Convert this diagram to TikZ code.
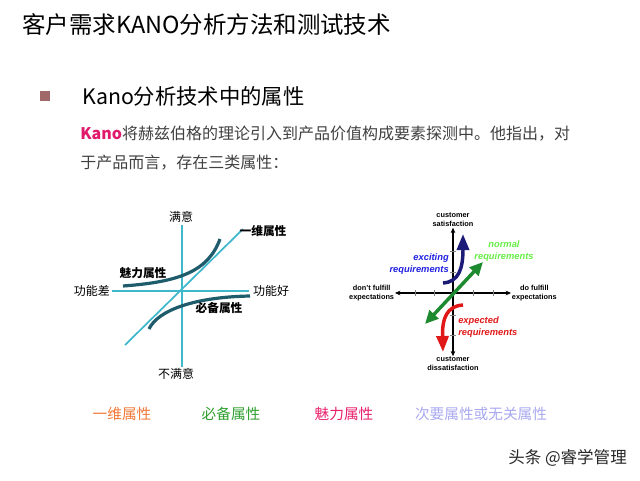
\documentclass[tikz,border=0pt]{standalone}
\usepackage{fontspec}
\setmainfont{Liberation Sans}
\newfontfamily\cjk{Noto Sans CJK SC}
\usetikzlibrary{arrows.meta}
\definecolor{bulletred}{HTML}{A06868}
\definecolor{kanopink}{HTML}{E0196B}
\definecolor{bodygray}{HTML}{404040}
\definecolor{axisteal}{HTML}{40B8CC}
\definecolor{curveteal}{HTML}{1E5C6C}
\definecolor{navyarrow}{HTML}{1C1C78}
\definecolor{greenarrow}{HTML}{1E8A30}
\definecolor{excitingblue}{HTML}{2020E0}
\definecolor{normalgreen}{HTML}{66EE44}
\definecolor{expectedred}{HTML}{E01818}
\definecolor{lgorange}{HTML}{F07838}
\definecolor{lggreen}{HTML}{30A030}
\definecolor{lgpink}{HTML}{E8206A}
\definecolor{lgpurple}{HTML}{A8A8F0}
\tikzstyle{cn} = [inner sep=0pt, font=\cjk\fontsize{9}{10}\selectfont]
\tikzstyle{cnb} = [inner sep=0pt, font=\cjk\bfseries\fontsize{8.8}{10}\selectfont]
\tikzstyle{axlbl} = [inner sep=0.5pt, align=center, font=\bfseries\fontsize{5.5}{6.6}\selectfont]
\tikzstyle{req} = [inner sep=0pt, font=\bfseries\itshape\fontsize{7}{9}\selectfont]
\tikzstyle{legend} = [inner sep=0pt, font=\cjk\fontsize{11}{12}\selectfont]
\tikzstyle{bigtip} = [line width=2.6pt]

\begin{document}
\begin{tikzpicture}[x=0.75pt,y=-0.75pt]
			\useasboundingbox (0,0) rectangle (640,480);
			% heading
			\node[inner sep=0pt,anchor=west,font=\cjk\fontsize{17.6}{20}\selectfont] (title) at (22,25) {客户需求KANO分析方法和测试技术};
			\fill[bulletred] (40,91) rectangle (50,101);
			\node[inner sep=0pt,anchor=west,font=\cjk\fontsize{16}{18}\selectfont] (sub) at (82,96) {Kano分析技术中的属性};
			\node[inner sep=0pt,anchor=west,text=bodygray,font=\cjk\fontsize{12}{14}\selectfont] (para1) at (80,134) {{\color{kanopink}\bfseries Kano}将赫兹伯格的理论引入到产品价值构成要素探测中。他指出，对};
			\node[inner sep=0pt,anchor=west,text=bodygray,font=\cjk\fontsize{12}{14}\selectfont] (para2) at (80,163) {于产品而言，存在三类属性：};
			% left diagram
			\node[cn] (sat) at (181,217) {满意};
			\node[cn] (dis) at (176,374) {不满意};
			\node[cn] (bad) at (92,291) {功能差};
			\node[cn] (good) at (271,291) {功能好};
			\draw[axisteal,line width=1.3pt] (182,225) -- (182,367);
			\draw[axisteal,line width=1.3pt] (bad.east) ++(2,0) -- ([xshift=-3]good.west);
			\coordinate (d1) at (125,345);
			\coordinate (d2) at (243,229);
			\draw[axisteal,line width=1.3pt] (d1) -- (d2);
			\draw[curveteal,line width=2.4pt] (123,286) .. controls (178,282) and (208,272) .. (220,239);
			\draw[curveteal,line width=2.4pt] (149,329) .. controls (158,310) and (195,297) .. (250,296);
			\node[cnb] (onedim) at (263,231) {一维属性};
			\node[cnb] (attract) at (143,273) {魅力属性};
			\node[cnb] (must) at (219,308) {必备属性};
			% right diagram
			\node[axlbl] (csat) at (453,220) {customer\\satisfaction};
			\node[axlbl] (cdis) at (453,364) {customer\\dissatisfaction};
			\node[axlbl,anchor=east] (dont) at (395,293) {don't fulfill\\expectations};
			\node[axlbl,anchor=west] (dofull) at (511,293) {do fulfill\\expectations};
			\draw[line width=0.8pt,{Stealth[length=4pt,width=3.5pt]}-{Stealth[length=4pt,width=3.5pt]}] (dont.east) -- (dofull.west);
			\draw[line width=0.8pt,{Stealth[length=4pt,width=3.5pt]}-{Stealth[length=4pt,width=3.5pt]}] (csat.south) -- (cdis.north);
			\foreach \x in {415,434,473,493} \draw[gray,line width=0.5pt] (\x,290) -- (\x,296);
			\foreach \y in {251,272,315,335} \draw[gray,line width=0.5pt] (450,\y) -- (456,\y);
			\draw[navyarrow,bigtip,-{Triangle[length=12pt,width=9pt]}] (443,283) .. controls (459,282) and (463,268) .. (463,234);
			\draw[greenarrow,bigtip,{Triangle[length=10pt,width=9pt]}-{Triangle[length=10pt,width=9pt]}] (425,324) -- (483,262);
			\draw[expectedred,bigtip,-{Triangle[length=12pt,width=9pt]}] (463,305) .. controls (447,306) and (442,318) .. (443,352);
			\node[req,text=excitingblue,align=right,anchor=east] (exciting) at (449,264) {exciting\\requirements};
			\node[req,text=normalgreen,align=center] (normal) at (504,251) {normal\\requirements};
			\node[req,text=expectedred,align=left,anchor=west] (expected) at (458,327) {expected\\requirements};
			% legend
			\node[legend,text=lgorange] (lg1) at (122,414) {一维属性};
			\node[legend,text=lggreen] (lg2) at (231,414) {必备属性};
			\node[legend,text=lgpink] (lg3) at (344,414) {魅力属性};
			\node[legend,text=lgpurple] (lg4) at (481,414) {次要属性或无关属性};
			\node[inner sep=0pt,anchor=west,text=black!85,font=\cjk\fontsize{12.4}{14}\selectfont] (mark) at (508,458) {头条 @睿学管理};
		\end{tikzpicture}
\end{document}
